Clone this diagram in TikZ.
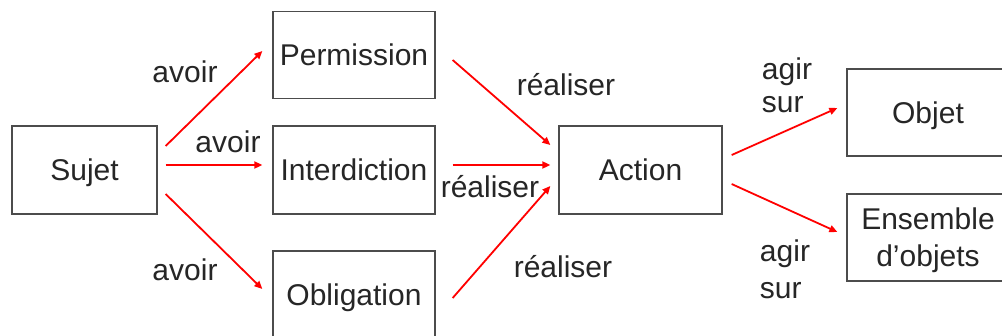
\documentclass[tikz,border=0pt]{standalone}
\usepackage{fontspec}
\setmainfont{Liberation Sans}
\usetikzlibrary{arrows.meta}
\begin{document}
\begin{tikzpicture}[x=1pt,y=-1pt,
  box/.style={draw=black!70,line width=1.3pt,rectangle,inner sep=0pt,
    minimum width=162pt,minimum height=87pt,align=center,
    font=\fontsize{30}{37}\selectfont,text=black!85},
  onebox/.style={box,text height=27pt,text depth=6pt},
  lbl/.style={font=\fontsize{30}{33}\selectfont,text=black!85,inner sep=0pt,align=left},
  rel/.style={draw=red,line width=1.8pt,-{Triangle[length=8pt,width=7pt]}}]
\useasboundingbox[fill=white] (0,0) rectangle (1002,335);
\begin{scope}
\clip (0,0) rectangle (1002,335);
% boxes
\node[onebox,minimum width=145pt,minimum height=88pt] (sujet) at (84.5,170) {Sujet};
\node[onebox] (perm) at (354,55) {Permission};
\node[onebox,minimum height=88pt] (inter) at (354,170) {Interdiction};
\node[onebox,minimum height=88pt] (oblig) at (354,295) {Obligation};
\node[onebox,minimum width=163pt,minimum height=88pt] (action) at (640.5,170) {Action};
\node[onebox] (objet) at (928,112.5) {Objet};
\node[box] (ens) at (928,237.5) {\rule{0pt}{27pt}Ensemble\\d’objets};
\end{scope}
% labels
\node[lbl] (l1) at (185,72) {avoir};
\node[lbl] (l2) at (228,142) {avoir};
\node[lbl] (l3) at (185,270) {avoir};
\node[lbl] (l4) at (566,85) {réaliser};
\node[lbl] (l5) at (490,187) {réaliser};
\node[lbl] (l6) at (563,267) {réaliser};
\node[lbl] (l7) at (787,85) {agir\\sur};
\node[lbl,font=\fontsize{30}{37}\selectfont] (l8) at (785,269) {agir\\sur};
% connectors
\draw[rel] ([xshift=8pt,yshift=24pt]sujet.east) -- ([xshift=-10pt,yshift=4pt]perm.west);
\draw[rel] ([xshift=8pt,yshift=5pt]sujet.east) -- ([xshift=-10pt,yshift=5pt]inter.west);
\draw[rel] ([xshift=8pt,yshift=-24pt]sujet.east) -- ([xshift=-10pt,yshift=6pt]oblig.west);
\draw[rel] ([xshift=17pt,yshift=-5pt]perm.east) -- ([xshift=-8pt,yshift=25pt]action.west);
\draw[rel] ([xshift=17pt,yshift=5pt]inter.east) -- ([xshift=-8pt,yshift=5pt]action.west);
\draw[rel] ([xshift=17pt,yshift=-3pt]oblig.east) -- ([xshift=-8pt,yshift=-16pt]action.west);
\draw[rel] ([xshift=9pt,yshift=15pt]action.east) -- ([xshift=-9pt,yshift=4.5pt]objet.west);
\draw[rel] ([xshift=9pt,yshift=-14pt]action.east) -- ([xshift=-9pt,yshift=5.5pt]ens.west);
\end{tikzpicture}
\end{document}
